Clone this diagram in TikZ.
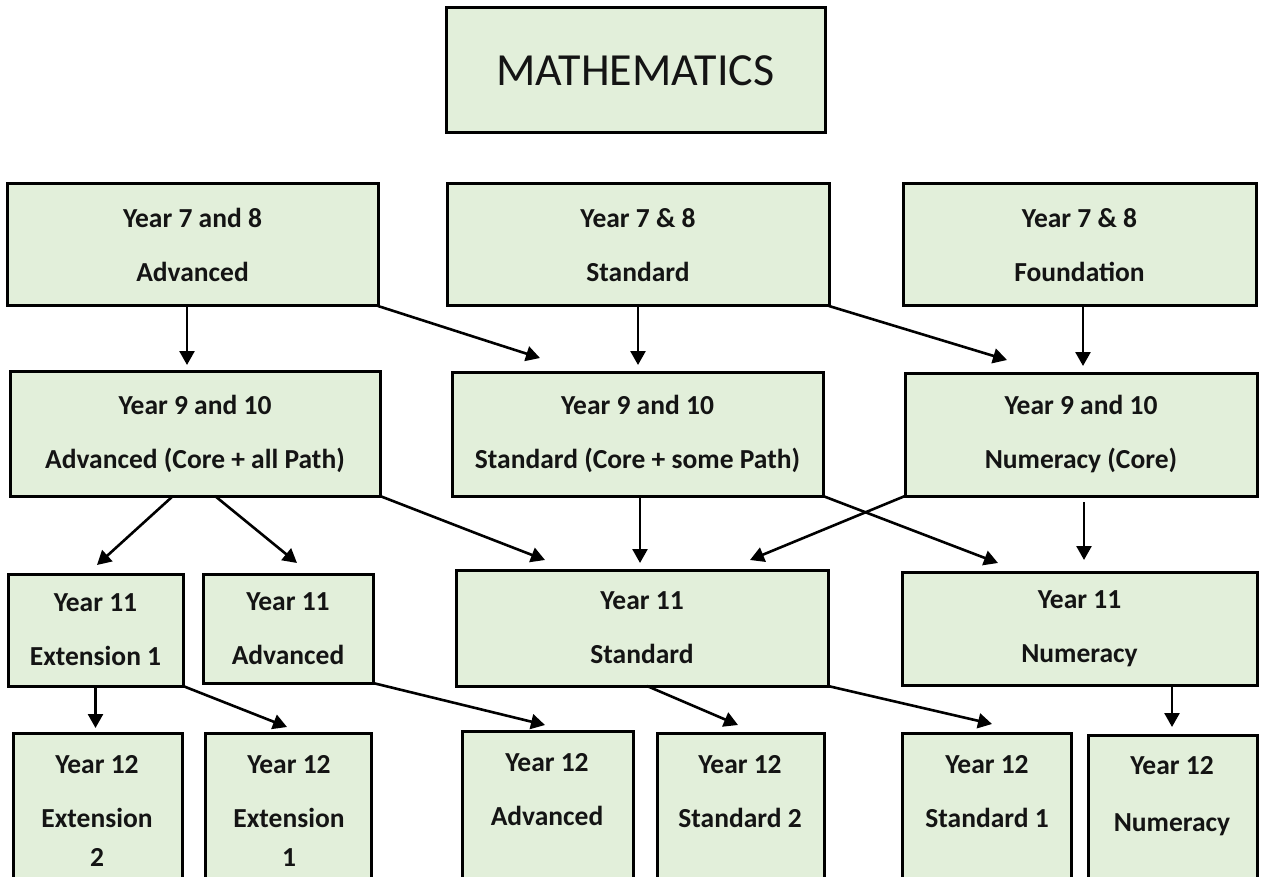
\documentclass[tikz,border=0pt]{standalone}
\usepackage{fontspec}
\setmainfont{Carlito}
\usetikzlibrary{arrows.meta}
\definecolor{boxfill}{RGB}{226,239,218}
\definecolor{ink}{RGB}{20,20,20}
\begin{document}
\begin{tikzpicture}[x=1pt,y=-1pt,
  box/.style={draw=black, line width=3pt, fill=boxfill, inner sep=0pt, outer sep=0pt,
    align=center, text=ink, font=\fontsize{27.5}{54}\selectfont\bfseries},
  lbl/.style={inner sep=0pt, align=center, text=ink, font=\fontsize{27.5}{54}\selectfont\bfseries},
  arr/.style={line width=2.6pt, draw=black, -{Triangle[length=14pt,width=15pt]}}]
\useasboundingbox (0,0) rectangle (1261,877);
\fill[white] (0,0) rectangle (1261,877);
\clip (0,0) rectangle (1261,877);

% title
\node[box, font=\fontsize{46}{50}\selectfont, minimum width=379pt, minimum height=125pt] (math) at (635.5,70.5) {MATHEMATICS};

% Year 7 and 8
\node[box, minimum width=371pt, minimum height=122pt] (r1a) at (192.5,245) {Year 7 and 8\\Advanced};
\node[box, minimum width=382pt, minimum height=122pt] (r1b) at (638,245) {Year 7 \& 8\\Standard};
\node[box, minimum width=353pt, minimum height=122pt] (r1c) at (1079.5,245) {Year 7 \& 8\\Foundation};

% Year 9 and 10
\node[box, minimum width=370pt, minimum height=125pt] (r2a) at (195,433.5) {Year 9 and 10\\Advanced (Core + all Path)};
\node[box, minimum width=371pt, minimum height=124pt] (r2b) at (637.5,434) {Year 9 and 10\\Standard (Core + some Path)};
\node[box, minimum width=352pt, minimum height=123pt] (r2c) at (1081,434.5) {Year 9 and 10\\Numeracy (Core)};

% Year 11
\node[box, minimum width=175pt, minimum height=112pt] (r3a) at (95.5,630) {Year 11\\Extension 1};
\node[box, minimum width=170pt, minimum height=109pt] (r3b) at (288,628.5) {Year 11\\Advanced};
\node[box, minimum width=372pt, minimum height=116pt] (r3c) at (642,628) {Year 11\\Standard};
\node[box, minimum width=355pt, minimum height=113pt] (r3d) at (1079.5,628.5) {Year 11\\Numeracy};

% Year 12 (boxes run past the bottom edge)
\node[box, anchor=north west, minimum width=169pt, minimum height=200pt] (e2) at (13,733) {};
\node[box, anchor=north west, minimum width=166pt, minimum height=200pt] (e1) at (205,733) {};
\node[box, anchor=north west, minimum width=171pt, minimum height=200pt] (adv) at (462,731) {};
\node[box, anchor=north west, minimum width=167pt, minimum height=200pt] (s2) at (657,733) {};
\node[box, anchor=north west, minimum width=169pt, minimum height=200pt] (s1) at (902,733) {};
\node[box, anchor=north west, minimum width=169pt, minimum height=200pt] (num) at (1088,735) {};

\node[lbl, anchor=north] (e2t) at (97,755) {Year 12\\Extension\\[-15pt]2};
\node[lbl, anchor=north] (e1t) at (289,755) {Year 12\\Extension\\[-15pt]1};
\node[lbl, anchor=north] (advt) at (547,753) {Year 12\\Advanced};
\node[lbl, anchor=north] (s2t) at (740,755) {Year 12\\Standard 2};
\node[lbl, anchor=north] (s1t) at (987,755) {Year 12\\Standard 1};
\node[lbl, anchor=north] (numt) at (1172,756) {Year 12\\[3pt]Numeracy};

% connectors: Year 7/8 -> Year 9/10
\draw[arr] ([xshift=-5.5pt]r1a.south) -- ([xshift=-8pt,yshift=6pt]r2a.north);
\draw[arr] (r1a.south east) -- ([xshift=88pt,yshift=14pt]r2b.north west);
\draw[arr] (r1b.south) -- ([xshift=0.5pt,yshift=7pt]r2b.north);
\draw[arr] (r1b.south east) -- ([xshift=102pt,yshift=13pt]r2c.north west);
\draw[arr] ([xshift=3.5pt]r1c.south) -- ([xshift=2pt,yshift=7pt]r2c.north);

% Year 9/10 -> Year 11
\draw[arr] ([xshift=-22pt]r2a.south) -- ([xshift=1.5pt,yshift=9pt]r3a.north);
\draw[arr] ([xshift=20pt]r2a.south) -- ([xshift=9pt,yshift=11pt]r3b.north);
\draw[arr] (r2a.south east) -- ([xshift=89pt,yshift=10pt]r3c.north west);
\draw[arr] ([xshift=2.5pt]r2b.south) -- ([xshift=-2pt,yshift=7pt]r3c.north);
\draw[arr] (r2b.south east) -- ([xshift=96pt,yshift=9pt]r3d.north west);
\draw[arr] (r2c.south west) -- ([xshift=-78pt,yshift=10pt]r3c.north east);
\draw[arr] ([xshift=3pt,yshift=-6pt]r2c.south) -- ([xshift=4.5pt,yshift=12pt]r3d.north);

% Year 11 -> Year 12
\draw[arr] (r3a.south) -- ([xshift=-2pt,yshift=5pt]e2.north);
\draw[arr] (r3a.south east) -- ([xshift=82pt,yshift=6pt]e1.north west);
\draw[arr] (r3b.south east) -- ([xshift=83pt,yshift=6pt]adv.north west);
\draw[arr] ([xshift=5pt]r3c.south) -- ([xshift=81pt,yshift=8pt]s2.north west);
\draw[arr] (r3c.south east) -- ([xshift=90pt,yshift=9pt]s1.north west);
\draw[arr] ([xshift=92.5pt]r3d.south) -- ([xshift=84pt,yshift=8pt]num.north west);
\end{tikzpicture}
\end{document}
